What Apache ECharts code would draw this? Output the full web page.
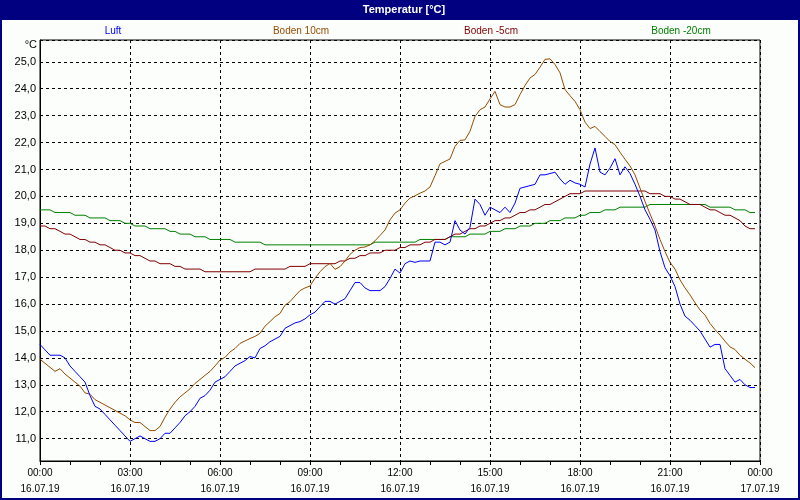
<!DOCTYPE html>
<html>
<head>
<meta charset="utf-8">
<title>Temperatur</title>
<script src="https://cdn.jsdelivr.net/npm/echarts@6/dist/echarts.min.js"></script>
<style>
    html, body { margin: 0; padding: 0; background: #fcfefc; }
    #chart { width: 800px; height: 500px; }
</style>
</head>
<body>
<div id="chart"></div>
<script>
// 10-Minuten-Werte vom 16.07.19 00:00 bis 23:50
const stepMinutes = 10;
const seriesNames = ['Luft', 'Boden 10cm', 'Boden -5cm', 'Boden -20cm'];
const seriesColors = ['#0000ff', '#964b00', '#800000', '#008000'];

const luft = [
    14.5, 14.3, 14.1, 14.1, 14.1, 14.0, 13.7, 13.5, 13.3, 13.1,
    12.6, 12.2, 12.1, 11.9, 11.7, 11.5, 11.3, 11.1, 10.9, 11.0,
    11.1, 11.0, 10.9, 10.9, 11.0, 11.2, 11.2, 11.4, 11.6, 11.85,
    12.0, 12.2, 12.5, 12.6, 12.8, 13.1, 13.2, 13.3, 13.5, 13.7,
    13.8, 13.9, 14.05, 14.0, 14.35, 14.45, 14.6, 14.7, 14.8, 15.1,
    15.2, 15.3, 15.35, 15.45, 15.6, 15.7, 15.9, 16.1, 16.1, 16.0,
    16.1, 16.2, 16.5, 16.8, 16.8, 16.6, 16.5, 16.5, 16.5, 16.65,
    16.95, 17.3, 17.15, 17.5, 17.6, 17.55, 17.6, 17.6, 17.6, 18.3,
    18.3, 18.2, 18.3, 19.1, 18.75, 18.6, 18.85, 19.9, 19.7, 19.3,
    19.6, 19.5, 19.4, 19.6, 19.4, 19.75, 20.3, 20.35, 20.4, 20.45,
    20.8, 20.8, 20.85, 20.9, 20.65, 20.45, 20.6, 20.5, 20.45, 20.35,
    21.2, 21.8, 20.9, 20.8, 21.05, 21.4, 20.8, 21.1, 20.85, 20.45,
    20.0, 19.5, 19.15, 18.75, 17.95, 17.35, 17.05, 16.65, 16.0, 15.55,
    15.4, 15.2, 15.0, 14.7, 14.4, 14.5, 14.5, 13.6, 13.35, 13.1,
    13.2, 13.0, 12.9, 12.9
];

const boden10 = [
    13.95, 13.8, 13.65, 13.5, 13.6, 13.4, 13.25, 13.1, 12.95, 12.7,
    12.65, 12.45, 12.35, 12.25, 12.15, 12.05, 11.95, 11.85, 11.7, 11.6,
    11.6, 11.45, 11.3, 11.3, 11.45, 11.8, 12.1, 12.35, 12.55, 12.7,
    12.85, 13.05, 13.2, 13.35, 13.5, 13.7, 13.92, 14.02, 14.22, 14.35,
    14.54, 14.63, 14.72, 14.8, 14.91, 15.18, 15.35, 15.53, 15.65, 15.96,
    16.09, 16.3, 16.5, 16.6, 16.67, 16.96, 17.2, 17.39, 17.51, 17.29,
    17.39, 17.6, 17.85, 18.0, 18.1, 18.12, 18.2, 18.35, 18.55, 18.75,
    19.13, 19.38, 19.5, 19.75, 19.94, 20.02, 20.12, 20.2, 20.35, 20.77,
    21.21, 21.3, 21.39, 21.86, 22.08, 22.1, 22.42, 22.97, 23.22, 23.32,
    23.62, 23.9, 23.41, 23.32, 23.32, 23.41, 23.78, 24.12, 24.4, 24.53,
    24.8, 25.09, 25.11, 24.9, 24.59, 23.97, 23.74, 23.53, 23.22, 22.76,
    22.52, 22.6, 22.41, 22.23, 22.04, 21.92, 21.64, 21.38, 21.13, 20.8,
    20.31, 19.81, 19.35, 18.9, 18.4, 17.95, 17.55, 17.3, 16.9, 16.6,
    16.34, 16.05, 15.78, 15.59, 15.28, 15.05, 14.85, 14.62, 14.41, 14.31,
    14.1, 13.95, 13.81, 13.64
];

const boden5 = [
    18.9, 18.9, 18.8, 18.8, 18.7, 18.6, 18.6, 18.5, 18.4, 18.4,
    18.3, 18.3, 18.2, 18.2, 18.1, 18.0, 18.0, 17.9, 17.9, 17.8,
    17.8, 17.7, 17.6, 17.6, 17.5, 17.5, 17.5, 17.4, 17.4, 17.3,
    17.3, 17.3, 17.3, 17.2, 17.2, 17.2, 17.2, 17.2, 17.2, 17.2,
    17.2, 17.2, 17.2, 17.3, 17.3, 17.3, 17.3, 17.3, 17.3, 17.3,
    17.4, 17.4, 17.4, 17.4, 17.5, 17.5, 17.5, 17.5, 17.5, 17.5,
    17.6, 17.6, 17.7, 17.7, 17.8, 17.8, 17.9, 17.9, 17.9, 18.0,
    18.0, 18.0, 18.1, 18.1, 18.2, 18.2, 18.2, 18.3, 18.3, 18.4,
    18.4, 18.4, 18.5, 18.6, 18.6, 18.7, 18.8, 18.8, 18.9, 18.9,
    19.0, 19.1, 19.1, 19.2, 19.2, 19.3, 19.4, 19.4, 19.5, 19.5,
    19.6, 19.7, 19.7, 19.8, 19.9, 20.0, 20.1, 20.1, 20.1, 20.2,
    20.2, 20.2, 20.2, 20.2, 20.2, 20.2, 20.2, 20.2, 20.2, 20.2,
    20.2, 20.2, 20.1, 20.1, 20.1, 20.0, 20.0, 19.9, 19.9, 19.8,
    19.7, 19.7, 19.7, 19.6, 19.5, 19.5, 19.4, 19.3, 19.3, 19.2,
    19.1, 18.9, 18.8, 18.8
];

const boden20 = [
    19.5, 19.5, 19.5, 19.4, 19.4, 19.4, 19.4, 19.3, 19.3, 19.3,
    19.2, 19.2, 19.2, 19.2, 19.1, 19.1, 19.1, 19.0, 19.0, 18.9,
    18.9, 18.9, 18.8, 18.8, 18.8, 18.8, 18.7, 18.7, 18.6, 18.6,
    18.6, 18.5, 18.5, 18.5, 18.4, 18.4, 18.4, 18.4, 18.4, 18.3,
    18.3, 18.3, 18.3, 18.3, 18.3, 18.2, 18.2, 18.2, 18.2, 18.2,
    18.2, 18.2, 18.2, 18.2, 18.2, 18.2, 18.2, 18.2, 18.2, 18.2,
    18.2, 18.2, 18.2, 18.2, 18.2, 18.2, 18.2, 18.3, 18.3, 18.3,
    18.3, 18.3, 18.3, 18.3, 18.3, 18.3, 18.4, 18.4, 18.4, 18.4,
    18.4, 18.4, 18.5, 18.5, 18.5, 18.5, 18.6, 18.6, 18.6, 18.6,
    18.7, 18.7, 18.7, 18.8, 18.8, 18.8, 18.9, 18.9, 18.9, 19.0,
    19.0, 19.0, 19.1, 19.1, 19.1, 19.2, 19.2, 19.2, 19.3, 19.3,
    19.4, 19.4, 19.4, 19.5, 19.5, 19.5, 19.6, 19.6, 19.6, 19.6,
    19.6, 19.6, 19.7, 19.7, 19.7, 19.7, 19.7, 19.7, 19.7, 19.7,
    19.7, 19.7, 19.7, 19.7, 19.6, 19.6, 19.6, 19.6, 19.6, 19.5,
    19.5, 19.5, 19.4, 19.4
];

const seriesValues = [luft, boden10, boden5, boden20];

// Achsen
const yMin = 10.17;
const yMax = 25.81;
const xTickHours = 3;
const startDate = '16.07.19';
const endDate = '17.07.19';

let chart = echarts.init(document.getElementById('chart'), null, { renderer: 'canvas' });

function pad(n) {
    return (n < 10 ? '0' : '') + n;
}

let series = seriesValues.map((vals, k) => {
    return {
        name: seriesNames[k],
        type: 'line',
        showSymbol: false,
        symbol: 'none',
        silent: true,
        z: 10 - k,
        lineStyle: { color: seriesColors[k], width: 1 },
        itemStyle: { color: seriesColors[k] },
        // x = Stunden seit 00:00
        data: vals.map((v, i) => [i * stepMinutes / 60, v]),
    };
});

// Legende als farbige Texte ueber dem Diagramm
const legendCenters = [113, 301, 491, 681];
let legendTexts = seriesNames.map((n, k) => {
    return {
        type: 'text',
        x: legendCenters[k],
        y: 31,
        style: {
            text: n,
            fill: seriesColors[k],
            font: '10px "Liberation Sans", Arial, sans-serif',
            textAlign: 'center',
            textVerticalAlign: 'middle',
        },
    };
});

chart.setOption({
    backgroundColor: '#fcfefc',
    animation: false,
    grid: {
        left: 40,
        top: 40,
        width: 720,
        height: 421,
        show: true,
        borderColor: '#000',
        borderWidth: 1,
        backgroundColor: 'rgba(0,0,0,0)',
    },
    xAxis: {
        type: 'value',
        min: 0,
        max: 24,
        interval: xTickHours,
        axisLine: { show: true, lineStyle: { color: '#000', width: 1 } },
        axisTick: { show: true, length: 4, lineStyle: { color: '#000' } },
        minorTick: { show: true, splitNumber: 3, length: 4, lineStyle: { color: '#000' } },
        splitLine: { show: true, lineStyle: { color: '#000', type: [3, 3], width: 1 } },
        axisLabel: {
            color: '#000',
            fontSize: 10,
            fontFamily: '"Liberation Sans", Arial, sans-serif',
            lineHeight: 16,
            margin: 4,
            showMinLabel: true,
            showMaxLabel: true,
            formatter: function (v) {
                let h = Math.round(v);
                if (h >= 24) {
                    return pad(h - 24) + ':00\n' + endDate;
                }
                return pad(h) + ':00\n' + startDate;
            },
        },
    },
    yAxis: {
        type: 'value',
        min: yMin,
        max: yMax,
        minInterval: 1,
        maxInterval: 1,
        axisLine: { show: true, lineStyle: { color: '#000', width: 1 } },
        axisTick: { show: false },
        splitLine: { show: true, lineStyle: { color: '#000', type: [3, 3], width: 1 } },
        axisLabel: {
            color: '#000',
            fontSize: 11,
            fontFamily: '"Liberation Sans", Arial, sans-serif',
            margin: 4,
            formatter: function (v) {
                if (Math.abs(v - Math.round(v)) > 0.001) return '';
                return v.toFixed(1).replace('.', ',');
            },
        },
    },
    series: series,
    graphic: [
        {
            type: 'rect',
            shape: { x: 0, y: 0, width: 800, height: 20 },
            style: { fill: '#000080' },
            silent: true,
        },
        {
            type: 'text',
            x: 404,
            y: 10,
            style: {
                text: 'Temperatur [°C]',
                fill: '#fff',
                font: 'bold 11px "Liberation Sans", Arial, sans-serif',
                textAlign: 'center',
                textVerticalAlign: 'middle',
            },
        },
        {
            type: 'rect',
            shape: { x: 1, y: 1, width: 798, height: 498 },
            style: { fill: 'none', stroke: '#000080', lineWidth: 2 },
            silent: true,
        },
        {
            type: 'text',
            x: 37,
            y: 45,
            style: {
                text: '°C',
                fill: '#000',
                font: '11px "Liberation Sans", Arial, sans-serif',
                textAlign: 'right',
                textVerticalAlign: 'middle',
            },
        },
    ].concat(legendTexts),
});

// Fenstergroesse
window.addEventListener('resize', () => {
    chart.resize();
});
</script>
</body>
</html>
